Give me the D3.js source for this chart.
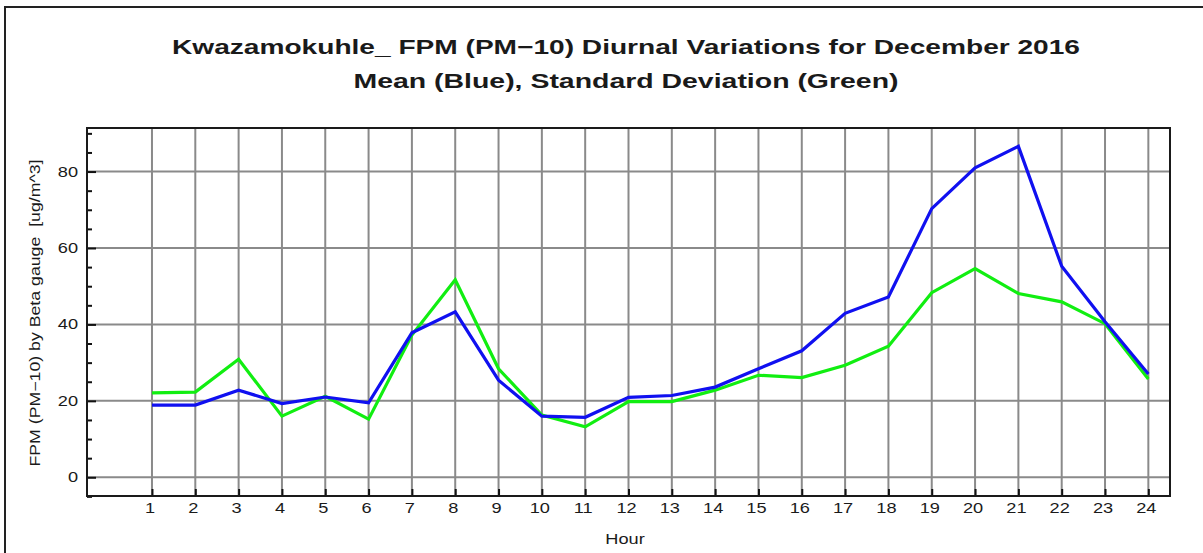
<!DOCTYPE html>
<html>
<head>
<meta charset="utf-8">
<script src="https://cdn.jsdelivr.net/npm/d3@7"></script>
<style>
  html, body { margin: 0; padding: 0; background: #fff; }
  svg { display: block; }
  text { font-family: "Liberation Sans", Arial, sans-serif; fill: #1a1a1a; white-space: pre; }
</style>
</head>
<body>
<svg id="chart" width="1203" height="553"></svg>
<script>
// Hourly diurnal profile, PM-10
const hours = [1,2,3,4,5,6,7,8,9,10,11,12,13,14,15,16,17,18,19,20,21,22,23,24];
const meanValues = [18.9,18.9,22.8,19.3,21.0,19.5,37.8,43.3,25.4,16.0,15.7,20.9,21.4,23.6,28.4,33.1,42.9,47.2,70.3,81.0,86.6,55.2,40.7,27.0];
const stdValues  = [22.1,22.3,30.9,16.0,21.2,15.2,37.2,51.7,28.4,16.3,13.2,19.8,19.8,22.8,26.7,26.1,29.3,34.3,48.3,54.6,48.1,45.9,40.2,25.7];
const yTicks = [0,20,40,60,80];
const yMinorTicks = [-5,5,10,15,25,30,35,45,50,55,65,70,75,85,90];

const titleLines = [
  "Kwazamokuhle_ FPM (PM\u221210) Diurnal Variations for December 2016",
  "Mean (Blue), Standard Deviation (Green)"
];
const yLabel = "FPM (PM\u221210) by Beta gauge  [ug/m^3]";
const xLabel = "Hour";

// text in this chart is drawn wide
const stretch = 1.3;

const svg = d3.select("#chart");

// outer frame
svg.append("rect")
  .attr("x", 5).attr("y", 7).attr("width", 1210).attr("height", 560)
  .attr("fill", "none").attr("stroke", "#222").attr("stroke-width", 2);

const plot = { left: 87, top: 128, right: 1170, bottom: 496 };

const x = d3.scaleLinear().domain([-0.5, 24.5]).range([plot.left, plot.right]);
const y = d3.scaleLinear().domain([-4.9, 91.4]).range([plot.bottom, plot.top]);

// grid
const grid = svg.append("g").attr("stroke", "#8a8a8a").attr("stroke-width", 2);
grid.selectAll("line.v").data(hours).join("line")
  .attr("x1", d => x(d)).attr("x2", d => x(d))
  .attr("y1", plot.top).attr("y2", plot.bottom);
grid.selectAll("line.h").data(yTicks).join("line")
  .attr("x1", plot.left).attr("x2", plot.right)
  .attr("y1", d => y(d)).attr("y2", d => y(d));

// axes with inward ticks
const yAxis = d3.axisRight(y).tickValues(yTicks).tickSize(9).tickFormat("");
const gy = svg.append("g").attr("transform", `translate(${plot.left},0)`).call(yAxis);
gy.select(".domain").remove();
gy.selectAll("line").attr("stroke", "#111").attr("stroke-width", 2);

const yMinor = d3.axisRight(y).tickValues(yMinorTicks).tickSize(5).tickFormat("");
const gym = svg.append("g").attr("transform", `translate(${plot.left},0)`).call(yMinor);
gym.select(".domain").remove();
gym.selectAll("line").attr("stroke", "#111").attr("stroke-width", 2);

const xAxis = d3.axisTop(x).tickValues(hours).tickSize(7).tickFormat("");
const gx = svg.append("g").attr("transform", `translate(0,${plot.bottom})`).call(xAxis);
gx.select(".domain").remove();
gx.selectAll("line").attr("stroke", "#111").attr("stroke-width", 2);

// frame of plot area
svg.append("rect")
  .attr("x", plot.left).attr("y", plot.top)
  .attr("width", plot.right - plot.left).attr("height", plot.bottom - plot.top)
  .attr("fill", "none").attr("stroke", "#1a1a1a").attr("stroke-width", 2);

// tick labels
svg.append("g").selectAll("text").data(yTicks).join("text")
  .attr("transform", d => `translate(78,${y(d)}) scale(${stretch},1)`)
  .attr("dy", "0.36em")
  .attr("text-anchor", "end").attr("font-size", 14)
  .text(d => d);

svg.append("g").selectAll("text").data(hours).join("text")
  .attr("transform", d => `translate(${x(d) - 2},513) scale(${stretch},1)`)
  .attr("text-anchor", "middle").attr("font-size", 14)
  .text(d => d);

// series lines
const line = d3.line().x((d, i) => x(hours[i])).y(d => y(d));
svg.append("path").datum(stdValues)
  .attr("d", line).attr("fill", "none")
  .attr("stroke", "#11ee11").attr("stroke-width", 3.2).attr("stroke-linejoin", "miter");
svg.append("path").datum(meanValues)
  .attr("d", line).attr("fill", "none")
  .attr("stroke", "#1010f0").attr("stroke-width", 3.2).attr("stroke-linejoin", "miter");

// titles
const titleWidths = [908, 545];
svg.selectAll("text.title").data(titleLines).join("text")
  .attr("class", "title")
  .attr("x", 626).attr("y", (d, i) => 54 + i * 34)
  .attr("text-anchor", "middle")
  .attr("font-size", 20).attr("font-weight", "bold")
  .attr("textLength", (d, i) => titleWidths[i])
  .attr("lengthAdjust", "spacingAndGlyphs")
  .text(d => d);

// axis titles
svg.append("text")
  .attr("transform", `translate(40,313) rotate(-90)`)
  .attr("text-anchor", "middle").attr("font-size", 14)
  .attr("textLength", 307).attr("lengthAdjust", "spacingAndGlyphs")
  .text(yLabel);

svg.append("text")
  .attr("transform", `translate(625,544) scale(${stretch},1)`)
  .attr("text-anchor", "middle").attr("font-size", 14)
  .text(xLabel);
</script>
</body>
</html>
